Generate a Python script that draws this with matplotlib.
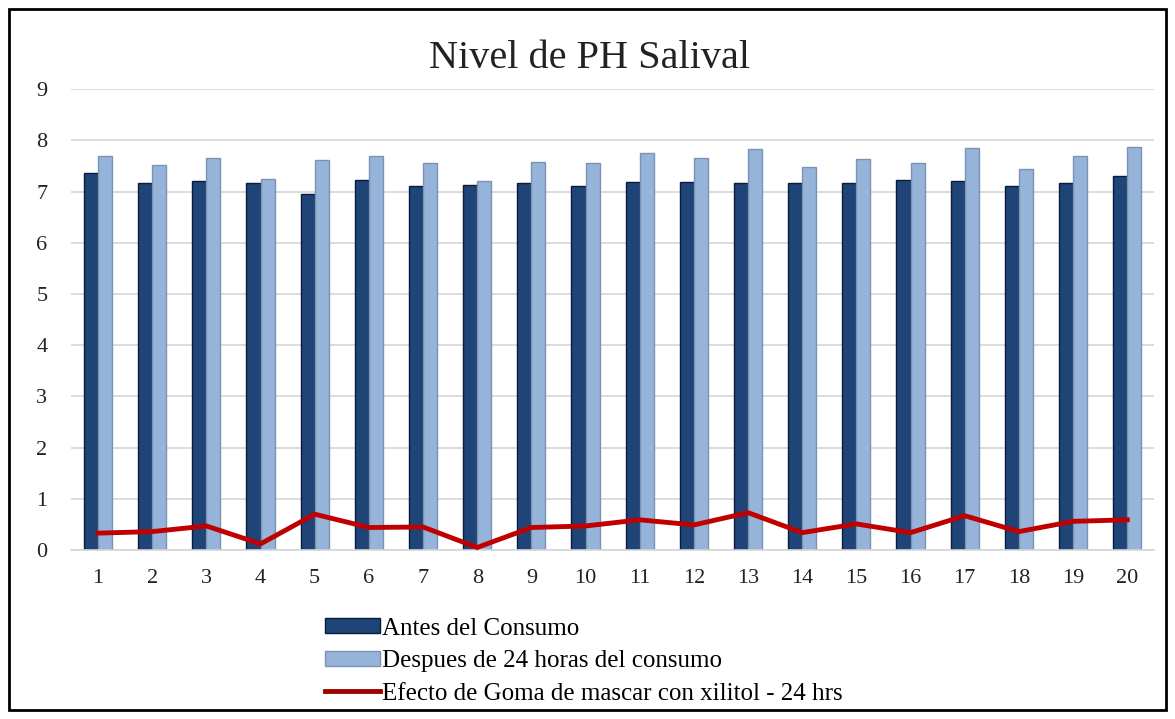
import matplotlib

matplotlib.use("Agg")
import matplotlib.pyplot as plt
import numpy as np
from matplotlib.patches import Rectangle

plt.rcParams["font.family"] = ["Liberation Serif", "DejaVu Serif"]

# nivel de pH por paciente
pacientes = [str(i) for i in range(1, 21)]
antes = [7.36, 7.16, 7.20, 7.16, 6.95, 7.23, 7.10, 7.12, 7.16, 7.10,
         7.18, 7.18, 7.16, 7.16, 7.16, 7.23, 7.20, 7.10, 7.16, 7.30]
despues = [7.69, 7.51, 7.65, 7.25, 7.61, 7.69, 7.55, 7.20, 7.58, 7.55,
           7.76, 7.65, 7.84, 7.48, 7.63, 7.55, 7.86, 7.45, 7.69, 7.88]
efecto = [0.33, 0.36, 0.47, 0.12, 0.70, 0.44, 0.45, 0.05, 0.44, 0.47,
          0.59, 0.49, 0.73, 0.34, 0.51, 0.34, 0.67, 0.36, 0.56, 0.59]
y_ticks = list(range(0, 10))

fig = plt.figure(figsize=(11.75, 7.19), dpi=100)
ax = fig.add_axes([0.0604, 0.235, 0.922, 0.641])

x = np.arange(len(pacientes))
w = 0.26
b1 = ax.bar(x - w / 2, antes, w, color="#1f4477", edgecolor="#0a1c3c", linewidth=1.0,
            label="Antes del Consumo", zorder=2)
b2 = ax.bar(x + w / 2, despues, w, color="#96b4d9", edgecolor="#7b93b3", linewidth=1.0,
            label="Despues de 24 horas del consumo", zorder=2)
ln, = ax.plot(x, efecto, color="#c00000", linewidth=3.5, solid_joinstyle="round",
              label="Efecto de Goma de mascar con xilitol - 24 hrs", zorder=3)

ax.set_xlim(-0.5, len(pacientes) - 0.5)
ax.set_ylim(0, 9)
ax.set_yticks(y_ticks)
ax.set_xticks(x)
ax.set_xticklabels(pacientes)
ax.tick_params(axis="both", length=0, labelsize=16, colors="#222222")
ax.tick_params(axis="y", pad=17)
ax.tick_params(axis="x", pad=14)
ax.grid(axis="y", color="#d6d6d6", linewidth=1.2, zorder=0)
for side in ("top", "right", "left"):
    ax.spines[side].set_visible(False)
ax.spines["bottom"].set_color("#d6d6d6")
ax.spines["bottom"].set_linewidth(1.2)

fig.text(0.502, 0.918, "Nivel de PH Salival", ha="center", va="center",
         fontsize=29, color="#222222")

leg = fig.legend(handles=[b1, b2, ln], loc="upper left", bbox_to_anchor=(0.268, 0.155),
                 frameon=False, fontsize=18, handlelength=2.2, handleheight=0.55,
                 handletextpad=0.1, labelspacing=0.42, borderaxespad=0)
leg.legend_handles[2].set_color("#a00000")

fig.add_artist(Rectangle((0.008, 0.012), 0.984, 0.976, transform=fig.transFigure,
                         fill=False, edgecolor="black", linewidth=2))

fig.savefig("out.png", dpi=100)
